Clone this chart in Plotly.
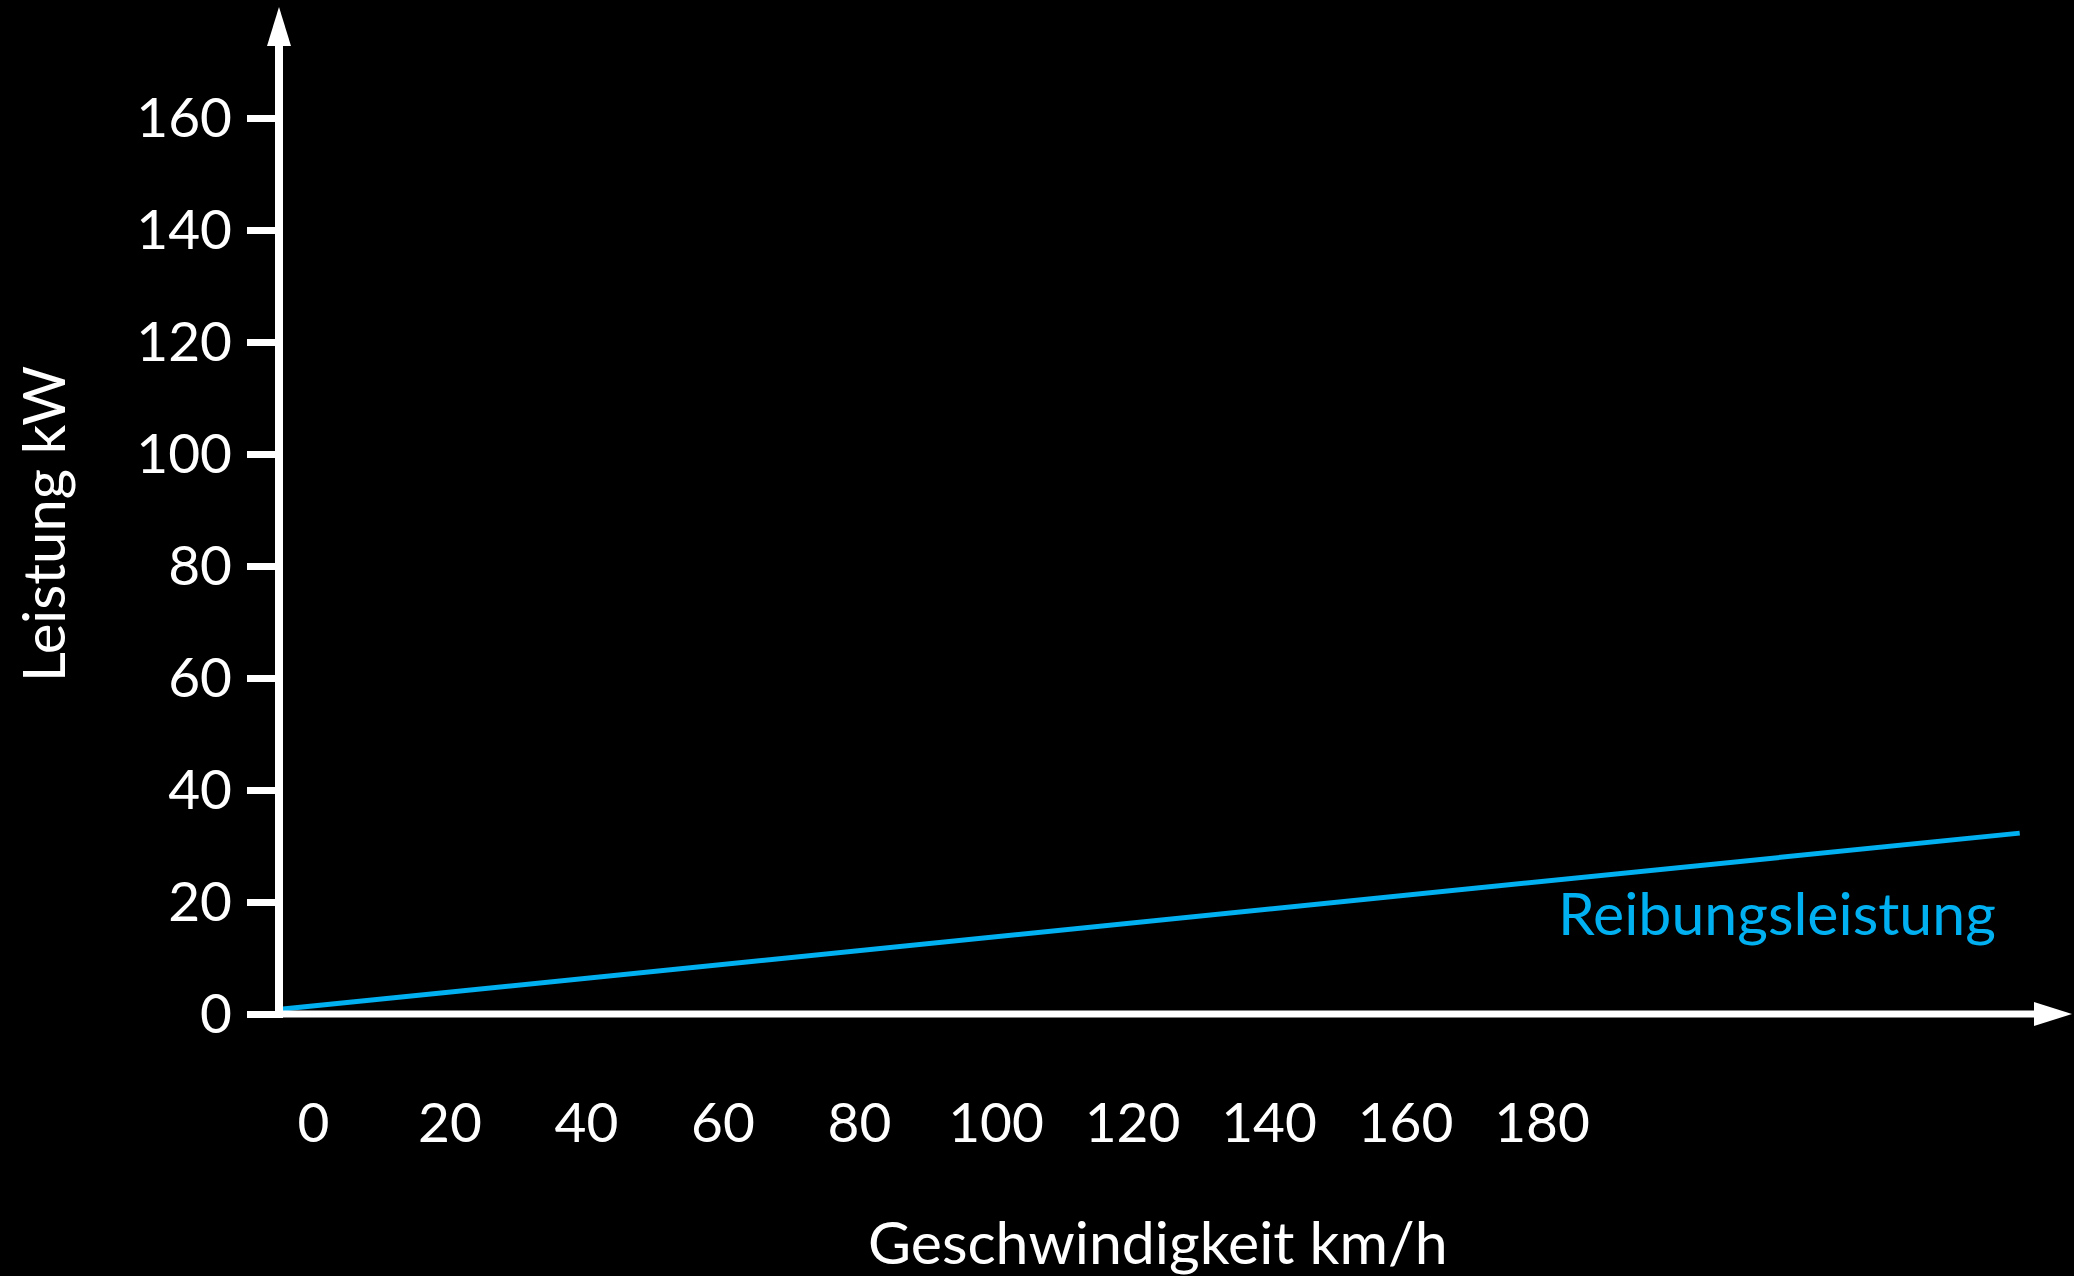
import plotly.graph_objects as go

# ---- data ----
speed_kmh = [-4.5, 250]          # line endpoints (label scale)
power_kw = [0.9, 32.3]
series_name = "Reibungsleistung"
x_tick_labels = [0, 20, 40, 60, 80, 100, 120, 140, 160, 180]
y_tick_labels = [0, 20, 40, 60, 80, 100, 120, 140, 160]

W, H = 2074, 1276
FONT = "Lato, Calibri, sans-serif"
BLUE = "#00B0F0"
WHITE = "#FFFFFF"

# pixel mapping (layout)
x_px0, x_scale = 313.5, 6.825   # px of 0 km/h, px per km/h
y_px0, y_scale = 1014.0, 5.6    # px of 0 kW, px per kW
xr = [(0 - x_px0) / x_scale, (W - x_px0) / x_scale]
yr = [(y_px0 - H) / y_scale, (y_px0 - 0) / y_scale]

def px2x(p):
    return (p - x_px0) / x_scale

def px2y(p):
    return (y_px0 - p) / y_scale

axis_x = px2x(279)
fig = go.Figure()
fig.add_trace(go.Scatter(x=speed_kmh, y=power_kw, mode="lines",
                         line=dict(color=BLUE, width=5), showlegend=False,
                         hoverinfo="skip"))

# axis lines and arrowheads
shapes = [
    dict(type="line", xref="x", yref="y", x0=axis_x, x1=axis_x, y0=px2y(1018), y1=px2y(44),
         line=dict(color=WHITE, width=8)),
    dict(type="path", xref="x", yref="y",
         path=f"M {px2x(267)} {px2y(46)} L {px2x(291)} {px2y(46)} L {px2x(279)} {px2y(7)} Z",
         fillcolor=WHITE, line=dict(width=0)),
    dict(type="line", xref="x", yref="y", x0=px2x(275), x1=px2x(2036), y0=0, y1=0,
         line=dict(color=WHITE, width=7)),
    dict(type="path", xref="x", yref="y",
         path=f"M {px2x(2034)} {px2y(1002)} L {px2x(2034)} {px2y(1026)} L {px2x(2072)} {px2y(1014)} Z",
         fillcolor=WHITE, line=dict(width=0)),
]

annotations = [
    dict(text=series_name, x=px2x(1998), y=px2y(937), xref="x", yref="y",
         xanchor="right", yanchor="bottom", showarrow=False,
         font=dict(family=FONT, size=59, color=BLUE), yshift=-13),
    dict(text="Geschwindigkeit km/h", x=1158 / W, y=1 - 1241 / H, xref="paper", yref="paper",
         xanchor="center", yanchor="middle", showarrow=False,
         font=dict(family=FONT, size=59, color=WHITE)),
    dict(text="Leistung kW", x=42 / W, y=1 - 524 / H, xref="paper", yref="paper",
         xanchor="center", yanchor="middle", showarrow=False, textangle=-90,
         font=dict(family=FONT, size=58, color=WHITE)),
]

fig.update_layout(
    width=W, height=H,
    margin=dict(l=0, r=0, t=0, b=0),
    paper_bgcolor="black", plot_bgcolor="black",
    shapes=shapes, annotations=annotations,
    xaxis=dict(range=xr, domain=[0, 1], anchor="free", position=1 - y_px0 / H,
               showgrid=False, zeroline=False, showline=False,
               tickvals=x_tick_labels, ticktext=[str(v) for v in x_tick_labels],
               ticks="", ticklabelstandoff=72,
               tickfont=dict(family=FONT, size=55, color=WHITE)),
    yaxis=dict(range=yr, domain=[0, 1], anchor="free", position=279 / W,
               showgrid=False, zeroline=False, showline=False,
               tickvals=y_tick_labels, ticktext=[str(v) for v in y_tick_labels],
               ticks="outside", ticklen=32, tickwidth=7, tickcolor=WHITE,
               ticklabelstandoff=4,
               tickfont=dict(family=FONT, size=55, color=WHITE)),
)

fig.write_html("out.html", config={"displayModeBar": False},
               post_script="document.body.style.margin='0';document.body.style.background='black';")
